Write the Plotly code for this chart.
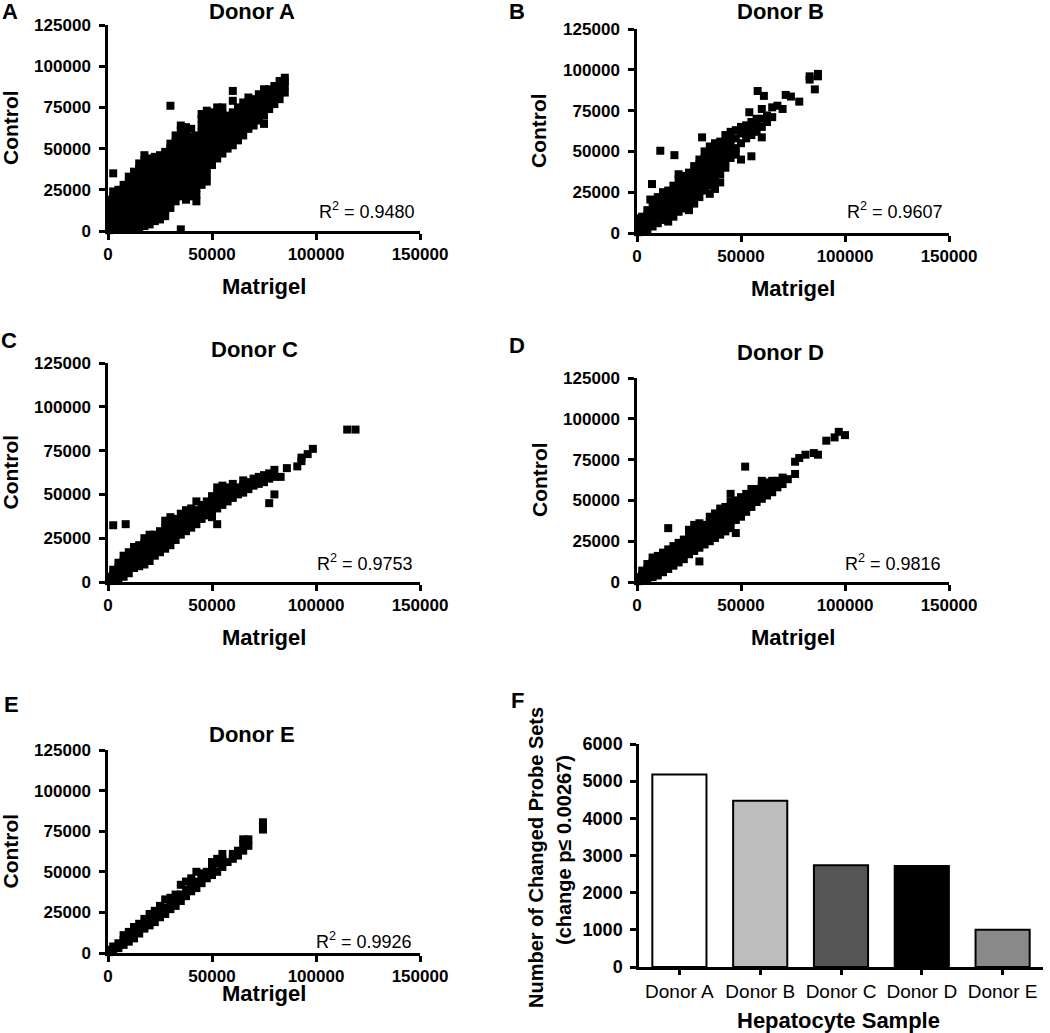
"""Matrigel vs control scatter panels and changed probe set counts."""

import plotly.graph_objects as go

W, H = 1050, 1033

donors = ["Donor A", "Donor B", "Donor C", "Donor D", "Donor E"]
r_squared = ["0.9480", "0.9607", "0.9753", "0.9816", "0.9926"]

# Values, in thousands: (Matrigel, [Control, ...])
donor_a = [
    (0.5, [0.5, 4, 8, 12, 16, 19]),
    (2.5, [1, 5, 9, 13, 17, 21, 24, 35]),
    (5, [1, 5, 9, 13, 17, 21, 25]),
    (7.5, [1, 5, 9, 13, 17, 21, 25, 28]),
    (10, [1, 5, 9, 13, 17, 21, 25, 29, 33]),
    (12.5, [1, 5, 9, 13, 17, 21, 25, 29, 33, 36]),
    (15, [2, 6, 10, 14, 18, 22, 26, 30, 34, 38, 41]),
    (17.5, [3, 7, 11, 15, 19, 23, 27, 31, 35, 39, 43, 46]),
    (20, [4, 8, 12, 16, 20, 24, 28, 32, 36, 40, 44]),
    (22.5, [6, 10, 14, 18, 22, 26, 30, 34, 38, 42, 45]),
    (25, [7, 11, 15, 19, 23, 27, 31, 35, 39, 43, 46]),
    (27.5, [9, 13, 17, 21, 25, 29, 33, 37, 41, 45, 48]),
    (30, [14, 18, 22, 26, 30, 34, 38, 42, 46, 50, 53, 76]),
    (32.5, [18, 22, 26, 30, 34, 38, 42, 46, 50, 54, 58]),
    (35, [1, 21, 25, 29, 33, 37, 41, 45, 49, 53, 57, 61, 64]),
    (37.5, [19, 23, 27, 31, 35, 39, 43, 47, 51, 55, 59, 63]),
    (40, [21, 25, 29, 33, 37, 41, 45, 49, 53, 57, 62]),
    (42.5, [18, 22, 26, 30, 34, 38, 42, 46, 50, 54, 58]),
    (45, [28, 32, 36, 40, 44, 48, 52, 56, 60, 64, 68, 71]),
    (47.5, [30, 34, 38, 42, 46, 50, 54, 58, 62, 66, 70, 73]),
    (50, [40, 44, 48, 52, 56, 60, 64, 68, 72]),
    (52.5, [44, 48, 52, 56, 60, 64, 68, 72, 75]),
    (55, [47, 51, 55, 59, 63, 67, 71, 75]),
    (57.5, [50, 54, 58, 62, 66, 70]),
    (60, [52, 56, 60, 64, 68, 72, 79, 85]),
    (62.5, [55, 59, 63, 67, 71, 75]),
    (65, [58, 62, 66, 70, 74, 78]),
    (67.5, [62, 66, 70, 74, 78, 81]),
    (70, [64, 68, 72, 76, 80]),
    (72.5, [67, 71, 75, 79, 83]),
    (75, [65, 70, 74, 78, 82, 86]),
    (77.5, [74, 78, 82, 86]),
    (80, [77, 81, 85, 88]),
    (82.5, [80, 84, 88, 91]),
    (85, [84, 88, 91, 93]),
]

donor_b = [
    (0.5, [0.5, 3, 6, 9]),
    (2.5, [1, 4, 7, 10]),
    (5, [2, 5, 8, 11, 14]),
    (6.4, [20.5]),
    (7.2, [30]),
    (7.5, [4, 7, 10, 13, 17]),
    (10, [6, 9, 12, 15, 18, 22]),
    (11.2, [50.4]),
    (12.5, [8, 11, 14, 17, 21, 25]),
    (15, [7, 11, 14, 18, 22, 26]),
    (17.5, [10, 13, 17, 21, 25, 29]),
    (18, [47.7]),
    (20, [13, 17, 21, 25, 29, 33, 36]),
    (22.5, [15, 19, 23, 27, 31, 35]),
    (25, [14, 18, 22, 26, 30, 34, 37]),
    (27.5, [18, 22, 26, 30, 34, 38, 41]),
    (30, [22, 26, 30, 34, 38, 42, 45]),
    (31.3, [58.6]),
    (32.5, [26, 30, 34, 38, 42, 46, 50]),
    (35, [24, 29, 33, 37, 41, 45, 49, 53]),
    (37.5, [27, 31, 35, 39, 43, 47, 51, 55]),
    (40, [31, 36, 40, 44, 48, 52, 56]),
    (42.5, [40, 44, 48, 52, 56, 60]),
    (45, [46, 50, 54, 58, 62]),
    (47.5, [48, 52, 58, 63]),
    (50, [45, 55, 61, 65]),
    (52.5, [58, 62, 66]),
    (54, [74]),
    (55, [47, 60, 64, 68]),
    (57.5, [62, 66, 70]),
    (58, [87]),
    (60, [58.6, 65, 70, 76]),
    (61, [84]),
    (62.5, [68, 72]),
    (65, [71, 77]),
    (67.5, [78]),
    (70, [76]),
    (71.5, [84.6]),
    (74, [83.6]),
    (78, [80.5]),
    (83, [94, 96]),
    (85.5, [88]),
    (87, [97.5, 96]),
]

donor_c = [
    (0.5, [0.5, 3]),
    (2.5, [1, 4, 7, 32.4]),
    (5, [2, 5, 8, 11]),
    (7.5, [3, 6, 9, 12, 15]),
    (8.5, [33]),
    (10, [5, 8, 11, 14, 17]),
    (12.5, [8, 11, 14, 17, 20]),
    (15, [9, 12, 15, 18, 21]),
    (17.5, [10, 14, 18, 22, 25]),
    (20, [12, 16, 20, 24, 27]),
    (22.5, [15, 19, 23, 27]),
    (25, [17, 21, 25, 29]),
    (27.5, [19, 23, 27, 31, 35]),
    (30, [21, 25, 29, 33, 37]),
    (32.5, [24, 28, 32, 36]),
    (35, [27, 31, 35, 39]),
    (37.5, [29, 33, 37, 41]),
    (40, [31, 35, 39, 42]),
    (42.5, [33, 37, 41, 46]),
    (45, [36, 40, 44]),
    (47.5, [38, 42, 46]),
    (50, [37, 41, 45, 49]),
    (52.5, [33, 42, 46, 50, 54]),
    (55, [44, 48, 52, 55]),
    (57.5, [46, 50, 54]),
    (60, [48, 52, 56]),
    (62.5, [50, 54]),
    (65, [51, 55, 58]),
    (67.5, [53, 57]),
    (70, [55, 59]),
    (72.5, [56, 60]),
    (75, [57, 61]),
    (77.5, [45, 59, 62]),
    (80, [50, 60, 64]),
    (83, [60]),
    (86, [65]),
    (91, [66]),
    (93, [69, 71]),
    (96, [73]),
    (98.5, [76]),
    (115, [87]),
    (119, [87]),
]

donor_d = [
    (0.5, [0.5, 3]),
    (2.5, [1, 4, 7]),
    (5, [2, 5, 8, 11]),
    (7.5, [3, 6, 9, 12, 15]),
    (10, [4, 7, 10, 13, 16]),
    (12.5, [6, 9, 12, 15, 18]),
    (15, [8, 11, 14, 17, 20, 33]),
    (17.5, [10, 13, 16, 19, 22]),
    (20, [12, 15, 18, 21, 24]),
    (22.5, [14, 17, 20, 23, 26]),
    (25, [17, 20, 23, 26, 29, 32]),
    (27.5, [19, 22, 25, 28, 31, 35]),
    (30, [12.6, 21, 24, 27, 30, 33, 36]),
    (32.5, [23, 26, 29, 32, 35]),
    (35, [25, 28, 31, 34, 37, 40]),
    (37.5, [27, 30, 33, 36, 39, 42]),
    (40, [29, 32, 35, 38, 41, 45]),
    (42.5, [31, 35, 39, 43, 46]),
    (45, [33, 37, 41, 45, 49, 54]),
    (47.5, [30, 38, 42, 46, 50]),
    (50, [40, 44, 48, 52]),
    (52, [70.7]),
    (52.5, [43, 47, 51, 54]),
    (55, [46, 50, 54, 57]),
    (57.5, [49, 53, 57]),
    (60, [51, 55, 59, 62]),
    (62.5, [53, 57, 61]),
    (65, [55, 59, 62]),
    (67.5, [58, 62]),
    (70, [60, 64]),
    (72.5, [63]),
    (76, [66.2, 73.7]),
    (78, [76]),
    (81, [78]),
    (85, [79]),
    (87, [78]),
    (91, [86.6]),
    (95, [88.6]),
    (97, [92]),
    (100, [90]),
]

donor_e = [
    (0.5, [0.5, 2]),
    (2.5, [1, 4]),
    (5, [3, 6]),
    (7.5, [5, 8, 11]),
    (10, [7, 10, 13]),
    (12.5, [9, 12, 16]),
    (15, [12, 15, 18]),
    (17.5, [15, 18, 21]),
    (20, [17, 20, 24]),
    (22.5, [19, 22, 26]),
    (25, [22, 26, 29]),
    (27.5, [24, 28, 33]),
    (30, [27, 31, 34]),
    (32.5, [29, 33, 36]),
    (35, [32, 36, 42]),
    (37.5, [35, 39, 44]),
    (40, [38, 42, 46]),
    (42.5, [40, 44, 50]),
    (45, [43, 47, 49]),
    (47.5, [46, 50]),
    (50, [48, 52, 56]),
    (52.5, [50, 55, 58]),
    (55, [53, 57, 61]),
    (57.5, [56]),
    (60, [58, 61]),
    (62.5, [60, 63]),
    (65, [63, 67, 70]),
    (67.5, [66, 70]),
    (74.5, [76, 78, 80.5]),
]

scatter_data = [donor_a, donor_b, donor_c, donor_d, donor_e]

# Panel F
hepatocyte_samples = ["Donor A", "Donor B", "Donor C", "Donor D", "Donor E"]
changed_probe_sets = [5180, 4470, 2740, 2715, 1000]
bar_colors = ["#ffffff", "#bdbdbd", "#555555", "#000000", "#898989"]

# Pixel geometry of each scatter panel: axis box (x0, x1, y_top, y_bottom)
panels = [
    dict(letter="A", box=(108, 420, 25, 231), letter_xy=(10, 12), title_xy=(252, 12),
         r2_xy=(367, 210), xtitle_y=287, ytitle_x=10),
    dict(letter="B", box=(637, 949, 29, 233), letter_xy=(517, 12), title_xy=(780, 12),
         r2_xy=(895, 210), xtitle_y=288, ytitle_x=538),
    dict(letter="C", box=(108, 420, 363, 582), letter_xy=(9, 340), title_xy=(254, 350),
         r2_xy=(365, 562), xtitle_y=637, ytitle_x=10),
    dict(letter="D", box=(637, 949, 378, 582), letter_xy=(517, 345), title_xy=(780, 352),
         r2_xy=(893, 562), xtitle_y=637, ytitle_x=539),
    dict(letter="E", box=(108, 420, 750, 953), letter_xy=(11, 704), title_xy=(252, 734),
         r2_xy=(364, 940), xtitle_y=993, ytitle_x=10),
]

FONT = "Liberation Sans, Arial, sans-serif"


def px(x):
    return x / W


def py(y):
    return 1 - y / H


def text(x, y, s, size, bold=True, angle=0):
    """Annotation placed in page pixels."""
    return dict(
        x=px(x), y=py(y), xref="paper", yref="paper", text=s, showarrow=False,
        xanchor="center", yanchor="middle", textangle=angle,
        font=dict(family=FONT, size=size, color="black",
                  weight="bold" if bold else "normal"),
    )


def axis_style(**kw):
    base = dict(
        showline=True, linecolor="black", linewidth=2.5,
        ticks="outside", ticklen=6, tickwidth=2.5, tickcolor="black",
        showgrid=False, zeroline=False, fixedrange=True,
        tickfont=dict(family=FONT, size=17, color="black", weight="bold"),
    )
    base.update(kw)
    return base


fig = go.Figure()
layout = {}
annotations = []

for i, (p, pts) in enumerate(zip(panels, scatter_data)):
    n = i + 1
    xs = [x * 1000 for x, ys in pts for _ in ys]
    ys = [y * 1000 for _, ys_ in pts for y in ys_]
    fig.add_trace(go.Scatter(
        x=xs, y=ys, mode="markers", xaxis=f"x{n}", yaxis=f"y{n}",
        marker=dict(symbol="square", size=8, color="black", line=dict(width=0)),
        cliponaxis=False, showlegend=False, hoverinfo="skip",
    ))
    x0, x1, yt, yb = p["box"]
    layout[f"xaxis{n}"] = axis_style(
        domain=[px(x0), px(x1)], anchor=f"y{n}", range=[0, 150000],
        tickvals=[0, 50000, 100000, 150000], tickformat="d",
    )
    layout[f"yaxis{n}"] = axis_style(
        domain=[py(yb), py(yt)], anchor=f"x{n}", range=[0, 125000],
        tickvals=[0, 25000, 50000, 75000, 100000, 125000], tickformat="d",
        ticklabelstandoff=5,
    )
    annotations += [
        text(*p["letter_xy"], p["letter"], 22),
        text(*p["title_xy"], donors[i], 22),
        text((x0 + x1) / 2, p["xtitle_y"], "Matrigel", 22),
        text(p["ytitle_x"], (yt + yb) / 2, "Control", 21, angle=-90),
        text(*p["r2_xy"], f"R<sup>2</sup> = {r_squared[i]}", 18, bold=False),
    ]

# Panel F: bar chart
fig.add_trace(go.Bar(
    x=hepatocyte_samples, y=changed_probe_sets, xaxis="x6", yaxis="y6",
    marker=dict(color=bar_colors, line=dict(color="black", width=2)),
    showlegend=False, hoverinfo="skip",
))
layout["xaxis6"] = axis_style(
    domain=[px(639), px(1043)], anchor="y6", ticklen=5,
    tickfont=dict(family=FONT, size=19, color="black"),
)
layout["yaxis6"] = axis_style(
    domain=[py(967), py(744)], anchor="x6", range=[0, 6000], dtick=1000,
    tickformat="d", ticklabelstandoff=4,
    tickfont=dict(family=FONT, size=18, color="black", weight="bold"),
)
annotations += [
    text(517, 700, "F", 22),
    text(536, 858, "Number of Changed Probe Sets", 20, angle=-90),
    text(564, 850, "(change p\u2264 0.00267)", 20, angle=-90),
    text(838, 1020, "Hepatocyte Sample", 22),
]

fig.update_layout(
    width=W, height=H, margin=dict(l=0, r=0, t=0, b=0, autoexpand=False),
    autosize=False,
    paper_bgcolor="white", plot_bgcolor="white", bargap=0.33,
    annotations=annotations, **layout,
)

# the page body keeps its default 8px margin otherwise, which overflows the window
fig.write_html(
    "out.html",
    config={"displayModeBar": False},
    post_script="document.body.style.margin = '0';",
)
